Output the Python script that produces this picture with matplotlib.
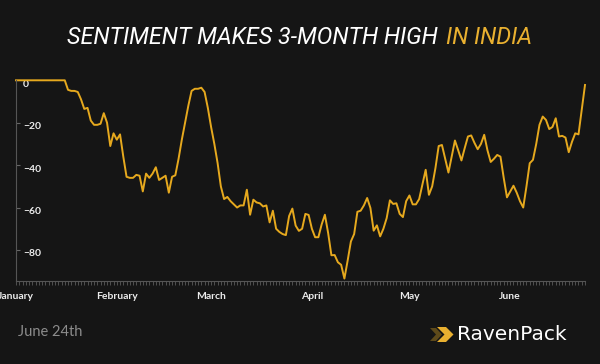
import pandas as pd
import matplotlib
matplotlib.use('Agg')
import matplotlib.pyplot as plt
import matplotlib.dates as mdates
from matplotlib.patches import Polygon
from matplotlib import transforms

# данные: дневной индекс настроений, 1 января - 24 июня 2020
start_date = '2020-01-01'
end_date = '2020-06-24'
sentiment = [0, 0, 0, 0, 0, 0, 0, 0, 0, 0, 0, 0, 0, 0, 0, 0,
             -4.5, -5, -5, -5.5, -9, -13.5, -13, -19, -21, -21,
             -20.5, -15.5, -20, -31, -25, -28, -25.5, -36, -45.5, -46,
             -46, -44.6, -45, -52.4, -44, -46, -44, -41, -47, -46,
             -45, -53, -45.5, -44.8, -37, -28, -20, -12, -5, -4,
             -4, -3.5, -5.5, -13, -22, -30, -39, -50, -56, -55,
             -57, -58.5, -60, -59, -59, -51.6, -63.4, -56.3, -57.6, -58,
             -59.5, -59, -67, -61.5, -70, -71.5, -72.5, -73, -64, -60.5,
             -68.5, -71, -70, -63, -63.5, -70, -74, -74, -68, -63.4,
             -72, -82.5, -82.4, -85.8, -87, -93.5, -85, -76, -72.5, -62,
             -61.5, -59, -55.5, -60.2, -70.9, -68.4, -73.6, -70, -65, -56.6,
             -58.3, -58, -63, -64.5, -57, -54.3, -58.5, -58.5, -56, -49,
             -42.2, -54, -50, -41.4, -31, -30.5, -37, -43.5, -36, -28.4,
             -33, -37.8, -32, -26.5, -26, -29.5, -32.5, -30, -25.7, -33,
             -38.5, -37, -35.2, -36, -46, -55.2, -52.5, -49.7, -53, -57,
             -60, -50, -39.1, -37.5, -30, -21, -17.1, -18.7, -23, -22,
             -17.9, -26.5, -26.2, -27, -33.9, -29, -25, -25.5, -14, -2.2]
y_ticks = [0, -20, -40, -60, -80]
title_white = 'SENTIMENT MAKES 3-MONTH HIGH'
title_gold = 'IN INDIA'
date_note = 'June 24th'
brand = 'RavenPack'

dates = pd.date_range(start_date, end_date, freq='D')

BG = '#151515'
GOLD = '#E6A91E'

fig = plt.figure(figsize=(6, 3.64), dpi=100, facecolor=BG)
ax = fig.add_axes([16/600, 83.3/364, 569/600, 200.4/364])
ax.set_facecolor(BG)

ax.plot(dates, sentiment, color=GOLD, lw=1.4, clip_on=False, solid_joinstyle='round')

ax.set_xlim(dates[0], dates[-1])
ax.set_ylim(-94.5, 0)

for s in ['top', 'right']:
    ax.spines[s].set_visible(False)
for s in ['left', 'bottom']:
    ax.spines[s].set_color('#555555')
    ax.spines[s].set_linewidth(0.8)

# ось Y: подписи внутри графика
ax.set_yticks(y_ticks)
ax.tick_params(axis='y', direction='in', length=3, color='#666666',
               labelcolor='#ececec', labelsize=7.5, pad=-5)
offset = transforms.ScaledTranslation(0, -0.03, fig.dpi_scale_trans)
for lab in ax.get_yticklabels():
    lab.set_horizontalalignment('left')
    lab.set_fontfamily('Lato')
    lab.set_fontweight('bold')
    lab.set_transform(lab.get_transform() + offset)

# ось X: месяцы + дневные засечки
ax.xaxis.set_major_locator(mdates.MonthLocator())
ax.xaxis.set_major_formatter(mdates.DateFormatter('%B'))
ax.xaxis.set_minor_locator(mdates.DayLocator())
ax.tick_params(axis='x', which='both', direction='out', length=3,
               color='#5a5a5a', width=0.6)
ax.tick_params(axis='x', which='major', labelcolor='#ececec', labelsize=7.5, pad=5)
for lab in ax.get_xticklabels():
    lab.set_fontfamily('Lato')
    lab.set_fontweight('bold')

# заголовок
fig.text(437.5/600, 1 - 38/364, title_white, color='white', fontsize=16.8,
         fontstyle='italic', family='Roboto',
         ha='right', va='center')
fig.text(445.8/600, 1 - 38/364, title_gold, color='#E9B030', fontsize=16.8,
         fontstyle='italic', family='Roboto',
         ha='left', va='center')

# подвал
fig.text(18/600, 1 - 332/364, date_note, color='#8c8c8c', fontsize=10.5,
         family='Lato', ha='left', va='center')
fig.text(457/600, 1 - 334.7/364, brand, color='white', fontsize=14.5,
         family='DejaVu Sans', ha='left', va='center')


def px(x, y):
    return (x/600, 1 - y/364)


fig.patches.append(Polygon([px(430, 328), px(436, 328), px(442, 334.5), px(436, 341), px(430, 341), px(436, 334.5)],
                           closed=True, transform=fig.transFigure, facecolor='#5e4a1a', edgecolor='none'))
fig.patches.append(Polygon([px(437, 327), px(446, 327), px(453.5, 334.5), px(446, 342), px(437, 342), px(444.5, 334.5)],
                           closed=True, transform=fig.transFigure, facecolor='#E9B030', edgecolor='none'))

fig.savefig('out.png', dpi=100, facecolor=BG)
